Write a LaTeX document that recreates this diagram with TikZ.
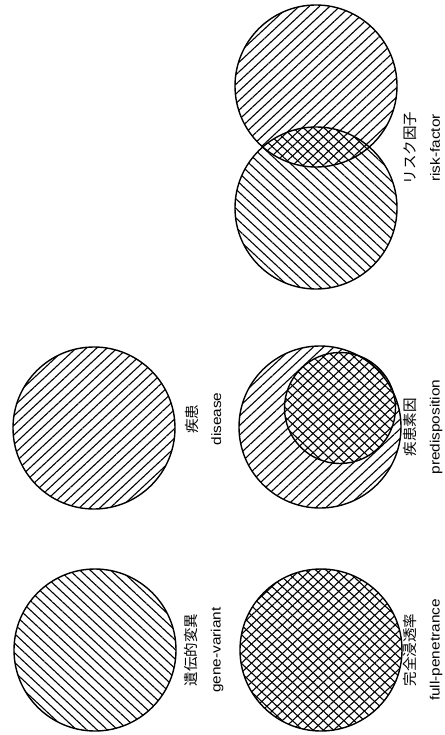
\documentclass[tikz,border=0pt]{standalone}
\usepackage{fontspec}
\newfontfamily\enfont{Liberation Sans}[FakeStretch=1.14]
\newfontfamily\jpfont{Noto Sans CJK JP}
\newcommand{\jptext}[1]{{\jpfont\fontsize{14.5}{24}\selectfont #1}}
\usetikzlibrary{patterns.meta}

\begin{document}
\begin{tikzpicture}[x=1pt, y=-1pt,
            venn/.style={circle, draw=black, line width=1.4pt, minimum size=162pt, inner sep=0pt},
            fwd/.style={venn, pattern={Lines[angle=43, distance=7pt, line width=1.1pt]}},
            bwd/.style={venn, pattern={Lines[angle=-43, distance=7pt, line width=1.1pt]}},
            cross/.style={venn, preaction={pattern={Lines[angle=43, distance=7pt, line width=1.1pt]}}, pattern={Lines[angle=-43, distance=7pt, line width=1.1pt]}},
            caption/.style={rotate=90, align=center, inner sep=0pt, font=\enfont\fontsize{13.5}{24}\selectfont}
        ]
            \useasboundingbox (0,0) rectangle (444,735);

            % Left column
            \node[bwd] (gene) at (95,650) {};
            \node[fwd] (disease) at (94,428) {};

            \node[caption] (genelab) at (204,650) {\jptext{遺伝的変異}\\gene-variant};
            \node[caption] (diseaselab) at (203,419) {\jptext{疾患}\\disease};

            % Right column
            \node[cross] (fullpen) at (321,650) {};
            \node[fwd] (predisp) at (320,427) {};
            \node[bwd, minimum size=111pt] (core) at (340,408) {};

            % Risk factor pair
            \node[fwd] (riskA) at (316,86) {};
            \node[bwd] (riskB) at (316,208) {};

            \node[caption] (fullpenlab) at (423,650) {\jptext{完全浸透率}\\full-penetrance};
            \node[caption] (predisplab) at (423,427) {\jptext{疾患素因}\\predisposition};
            \node[caption] (risklab) at (422,148) {\jptext{リスク因子}\\risk-factor};

        \end{tikzpicture}
\end{document}
